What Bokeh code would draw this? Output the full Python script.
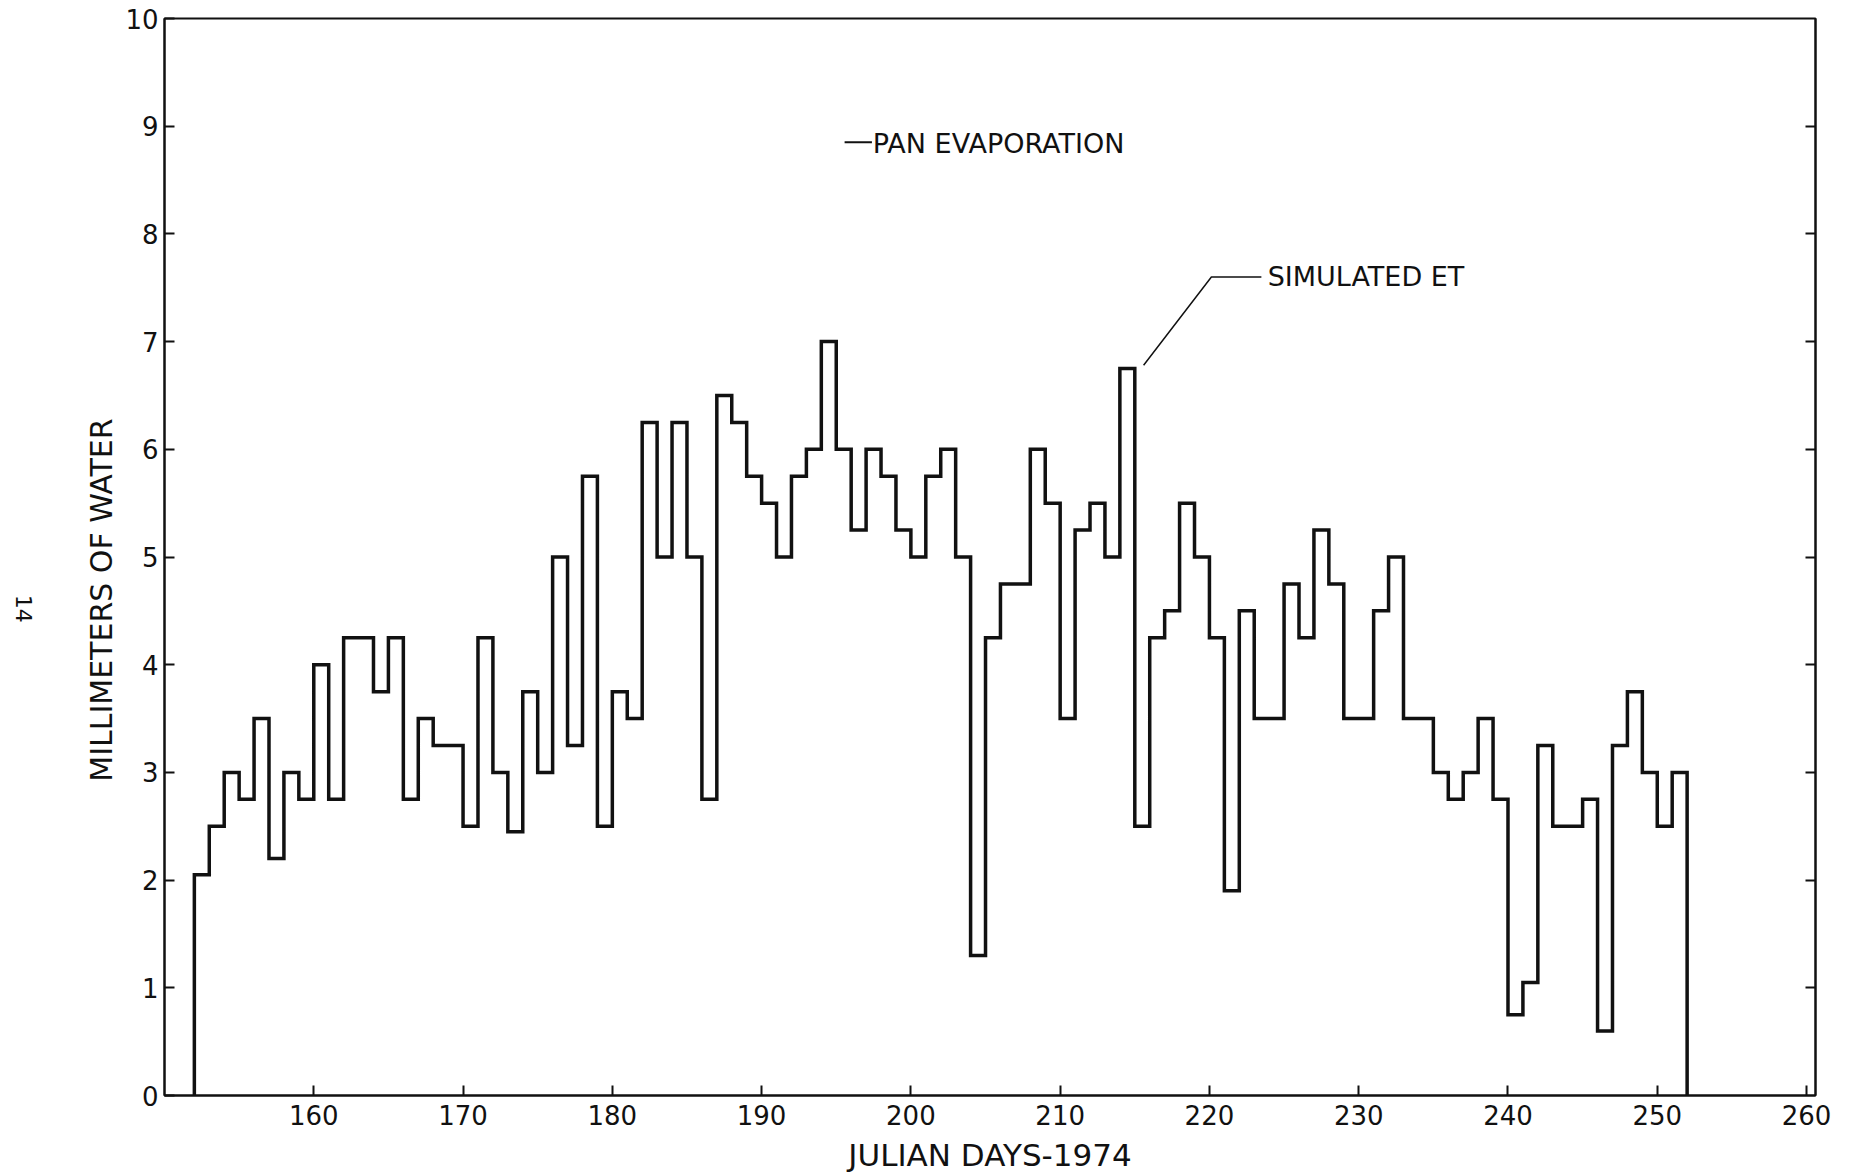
import numpy as np
from math import pi
from bokeh.plotting import figure
from bokeh.layouts import row
from bokeh.models import Range1d, LinearAxis, FixedTicker, Label
from bokeh.core.properties import value
from bokeh.embed import file_html
from bokeh.resources import INLINE

# ---- data ----
days = list(range(152, 252))
simulated_et = [
    2.05, 2.5, 3.0, 2.75, 3.5, 2.2, 3.0, 2.75,            # 152-159
    4.0, 2.75, 4.25, 4.25, 3.75, 4.25, 2.75, 3.5, 3.25, 3.25,  # 160-169
    2.5, 4.25, 3.0, 2.45, 3.75, 3.0, 5.0, 3.25, 5.75, 2.5,   # 170-179
    3.75, 3.5, 6.25, 5.0, 6.25, 5.0, 2.75, 6.5, 6.25, 5.75,  # 180-189
    5.5, 5.0, 5.75, 6.0, 7.0, 6.0, 5.25, 6.0, 5.75, 5.25,    # 190-199
    5.0, 5.75, 6.0, 5.0, 1.3, 4.25, 4.75, 4.75, 6.0, 5.5,    # 200-209
    3.5, 5.25, 5.5, 5.0, 6.75, 2.5, 4.25, 4.5, 5.5, 5.0,     # 210-219
    4.25, 1.9, 4.5, 3.5, 3.5, 4.75, 4.25, 5.25, 4.75, 3.5,   # 220-229
    3.5, 4.5, 5.0, 3.5, 3.5, 3.0, 2.75, 3.0, 3.5, 2.75,      # 230-239
    0.75, 1.05, 3.25, 2.5, 2.5, 2.75, 0.6, 3.25, 3.75, 3.0,  # 240-249
    2.5, 3.0,                                                # 250-251
]
x_ticks = [160, 170, 180, 190, 200, 210, 220, 230, 240, 250, 260]
y_ticks = [0, 1, 2, 3, 4, 5, 6, 7, 8, 9, 10]
x_title = "JULIAN DAYS-1974"
y_title = "MILLIMETERS OF WATER"
label_et = "SIMULATED ET"
label_pan = "PAN EVAPORATION"
page_number = "14"

FONT = "DejaVu Sans"
INK = "#111111"
SIDE_W = 122

y_range = Range1d(0, 10)

p = figure(width=1860 - SIDE_W, height=1176, output_backend="svg", toolbar_location=None,
           x_range=Range1d(150, 260.6), y_range=y_range,
           min_border_left=40, min_border_right=45, min_border_top=18,
           min_border_bottom=81, background_fill_color="white",
           border_fill_color="white")
p.grid.visible = False
p.outline_line_color = INK
p.outline_line_width = 2

# step path built from the data
edges = np.append(np.array(days, dtype=float), days[-1] + 1)
xs = np.repeat(edges, 2)
ys = np.concatenate([[0.0], np.repeat(np.array(simulated_et, dtype=float), 2), [0.0]])
p.line(xs, ys, line_color=INK, line_width=3.5, line_join="miter")

# axes
for ax in (p.xaxis[0], p.yaxis[0]):
    ax.axis_line_color = INK
    ax.axis_line_width = 2
    ax.major_tick_in = 10
    ax.major_tick_out = 0
    ax.major_tick_line_color = INK
    ax.major_tick_line_width = 2
    ax.minor_tick_line_color = None
    ax.major_label_text_font = FONT
    ax.major_label_text_color = INK

p.xaxis.ticker = FixedTicker(ticks=x_ticks)
p.xaxis.major_label_text_font_size = "26px"
p.xaxis.major_label_standoff = 9
p.xaxis.axis_label = x_title
p.xaxis.axis_label_text_font = FONT
p.xaxis.axis_label_text_font_size = "31px"
p.xaxis.axis_label_text_font_style = "normal"
p.xaxis.axis_label_text_color = INK
p.xaxis.axis_label_standoff = 9

p.yaxis.ticker = FixedTicker(ticks=y_ticks)
p.yaxis.major_label_text_font_size = "26px"
p.yaxis.major_label_standoff = 6

right = LinearAxis(ticker=FixedTicker(ticks=y_ticks[1:-1]))
right.axis_line_color = INK
right.axis_line_width = 2
right.major_tick_in = 10
right.major_tick_out = 0
right.major_tick_line_color = INK
right.major_tick_line_width = 2
right.minor_tick_line_color = None
right.major_label_text_color = None
p.add_layout(right, "right")

# Pan evaporation key
p.line([195.56, 197.39], [8.85, 8.85], line_color=INK, line_width=2)
p.add_layout(Label(x=197.45, y=8.84, text=label_pan, text_align="left",
                   text_baseline="middle", text_font=FONT,
                   text_font_size="27px", text_color=INK))

# Simulated ET leader
p.line([215.59, 220.13, 223.48], [6.78, 7.60, 7.60], line_color=INK, line_width=1.5)
p.add_layout(Label(x=223.9, y=7.6, text=label_et, text_align="left",
                   text_baseline="middle", text_font=FONT,
                   text_font_size="27px", text_color=INK))

# side panel holding the y-axis title and the page number
side = figure(width=SIDE_W, height=1176, output_backend="svg", toolbar_location=None,
              x_range=Range1d(0, SIDE_W), y_range=y_range,
              x_axis_type=None, y_axis_type=None,
              min_border_left=0, min_border_right=0, min_border_top=18,
              min_border_bottom=81, background_fill_color="white",
              border_fill_color="white", outline_line_color=None)
side.grid.visible = False
side.text(x=[101], y=[4.6], text=[y_title], angle=pi / 2,
          text_align="center", text_baseline="middle",
          text_font=value(FONT), text_font_size="30px", text_color=INK)
side.text(x=[23], y=[4.52], text=[page_number], angle=-pi / 2,
          text_align="center", text_baseline="middle",
          text_font=value(FONT), text_font_size="22px", text_color=INK)

layout = row(side, p, spacing=0)
open("out.html", "w").write(file_html(layout, INLINE))
